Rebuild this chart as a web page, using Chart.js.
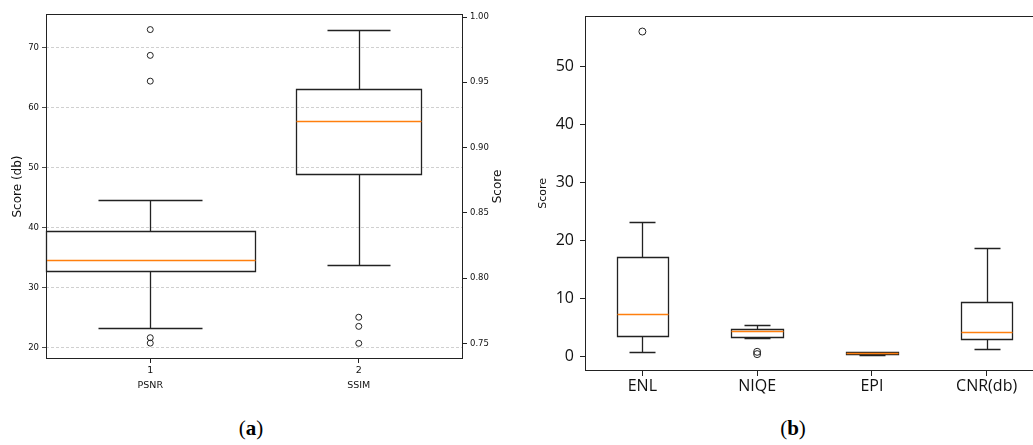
<!DOCTYPE html>
<html>
<head>
<meta charset="utf-8">
<script src="https://cdn.jsdelivr.net/npm/chart.js@4.4.0/dist/chart.umd.min.js"></script>
<style>
  html, body { margin: 0; padding: 0; background: #fff; overflow: hidden; width: 1033px; height: 445px; }
  #wrapA { position: absolute; left: 0; top: 0; width: 520px; height: 400px; }
  #wrapB { position: absolute; left: 520px; top: 0; width: 530px; height: 400px; }
  .sub { position: absolute; top: 416px; line-height: 24px; font-family: "Liberation Serif", "DejaVu Serif", serif;
         font-size: 21px; color: #000; transform: translateX(-50%); white-space: nowrap; }
</style>
</head>
<body>
<div id="wrapA"><canvas id="chartA" width="520" height="400"></canvas></div>
<div id="wrapB"><canvas id="chartB" width="530" height="400"></canvas></div>
<div class="sub" style="left:251px">(<b>a</b>)</div>
<div class="sub" style="left:793px">(<b>b</b>)</div>
<script>
// ---- panel (a) data ----
const aPositions = [1, 2];
const aNames = ["PSNR", "SSIM"];
// box stats: low whisker, Q1, median, Q3, high whisker
const psnrBox = [23.2, 32.7, 34.5, 39.4, 44.5];
const psnrOutliers = [73.0, 68.7, 64.4, 21.6, 20.7];
const ssimBox = [0.810, 0.880, 0.920, 0.945, 0.990];
const ssimOutliers = [0.770, 0.763, 0.750];
const psnrTicks = [20, 30, 40, 50, 60, 70];
const ssimTicks = [0.75, 0.80, 0.85, 0.90, 0.95, 1.00];

// ---- panel (b) data ----
const bPositions = [1, 2, 3, 4];
const bNames = ["ENL", "NIQE", "EPI", "CNR(db)"];
const enlBox = [0.9, 3.5, 7.3, 17.2, 23.2];
const niqeBox = [3.3, 3.4, 4.5, 4.7, 5.4];
const epiBox = [0.35, 0.45, 0.6, 0.75, 0.85];
const cnrBox = [1.3, 3.0, 4.2, 9.4, 18.8];
const enlOutliers = [56.1];
const niqeOutliers = [0.85, 0.45];
const scoreTicks = [0, 10, 20, 30, 40, 50];

const INK = "#222";
const MEDIAN = "#ff7f0e";

// draws the boxes/whiskers with the chart's own scales
function boxPlugin(boxes) {
  return {
    id: "boxes",
    afterDatasetsDraw(chart) {
      const ctx = chart.ctx;
      const xs = chart.scales.x;
      ctx.save();
      boxes.forEach((b) => {
        const ys = chart.scales[b.axis];
        const [lo, q1, med, q3, hi] = b.stats;
        const y = (v) => Math.round(ys.getPixelForValue(v)) + 0.5;
        const cx = Math.round(xs.getPixelForValue(b.pos)) + 0.5;
        const left = Math.round(xs.getPixelForValue(b.pos - b.width / 2)) + 0.5;
        const right = Math.round(xs.getPixelForValue(b.pos + b.width / 2)) + 0.5;
        const capL = Math.round(xs.getPixelForValue(b.pos - b.width / 4)) + 0.5;
        const capR = Math.round(xs.getPixelForValue(b.pos + b.width / 4)) + 0.5;
        ctx.lineWidth = 1.3;
        ctx.strokeStyle = INK;
        ctx.beginPath();
        ctx.moveTo(cx, y(q1)); ctx.lineTo(cx, y(lo));
        ctx.moveTo(cx, y(q3)); ctx.lineTo(cx, y(hi));
        ctx.moveTo(capL, y(lo)); ctx.lineTo(capR, y(lo));
        ctx.moveTo(capL, y(hi)); ctx.lineTo(capR, y(hi));
        ctx.rect(left, y(q3), right - left, y(q1) - y(q3));
        ctx.stroke();
        ctx.beginPath();
        ctx.strokeStyle = MEDIAN;
        ctx.moveTo(left, y(med)); ctx.lineTo(right, y(med));
        ctx.stroke();
      });
      ctx.restore();
    },
  };
}

const framePlugin = {
  id: "frame",
  afterDraw(chart) {
    const { ctx, chartArea: a } = chart;
    ctx.save();
    ctx.strokeStyle = INK;
    ctx.lineWidth = 1;
    ctx.strokeRect(Math.round(a.left) + 0.5, Math.round(a.top) + 0.5,
      Math.round(a.right - a.left) - 1, Math.round(a.bottom - a.top) - 1);
    ctx.restore();
  },
};

// right axis title reads bottom-to-top like matplotlib
const rightTitlePlugin = {
  id: "rightTitle",
  afterDraw(chart) {
    const { ctx, chartArea: a } = chart;
    ctx.save();
    ctx.translate(a.right + 35, (a.top + a.bottom) / 2);
    ctx.rotate(-Math.PI / 2);
    ctx.font = "12px 'DejaVu Sans'";
    ctx.fillStyle = "#111";
    ctx.textAlign = "center";
    ctx.textBaseline = "middle";
    ctx.fillText("Score", 0, 0);
    ctx.restore();
  },
};

const setTicks = (vals) => (s) => { s.ticks = vals.map((v) => ({ value: v })); };
const outlierSet = (pos, vals, axis, r) => ({
  data: vals.map((v) => ({ x: pos, y: v })),
  yAxisID: axis,
  pointStyle: "circle",
  pointRadius: r,
  pointBorderWidth: 1,
  pointBorderColor: INK,
  pointBackgroundColor: "rgba(0,0,0,0)",
  showLine: false,
});

new Chart(document.getElementById("chartA"), {
  type: "scatter",
  data: {
    datasets: [
      outlierSet(aPositions[0], psnrOutliers, "y", 3),
      outlierSet(aPositions[1], ssimOutliers, "yR", 3),
    ],
  },
  options: {
    responsive: false,
    animation: false,
    layout: { padding: { top: 14, left: 0, right: 0, bottom: 0 } },
    plugins: { legend: { display: false }, tooltip: { enabled: false } },
    scales: {
      x: {
        type: "linear", min: 0.5, max: 2.5,
        afterBuildTicks: setTicks(aPositions),
        afterFit: (s) => { s.height = 41; },
        border: { display: false },
        grid: { drawOnChartArea: false, tickLength: 4, tickColor: INK },
        ticks: {
          callback: (v, i) => [String(aPositions[i]), aNames[i]],
          font: { family: "DejaVu Sans", size: 9.5, lineHeight: 1.6 },
          color: "#111", padding: 0, maxRotation: 0, autoSkip: false,
        },
      },
      y: {
        position: "left", min: 18.05, max: 75.6,
        afterBuildTicks: setTicks(psnrTicks),
        afterFit: (s) => { s.width = 46; },
        border: { display: false, dash: [3, 2] },
        grid: { color: "#c4c4c4", lineWidth: 0.8, tickLength: 4, tickColor: INK },
        ticks: { font: { family: "DejaVu Sans", size: 8.5 }, color: "#111", padding: 3 },
        title: {
          display: true, text: "Score (db)", color: "#111",
          font: { family: "DejaVu Sans", size: 12 }, padding: { top: 11, bottom: 0 },
        },
      },
      yR: {
        position: "right", min: 0.738, max: 1.0023,
        afterBuildTicks: setTicks(ssimTicks),
        afterFit: (s) => { s.width = 57; },
        border: { display: false },
        grid: { drawOnChartArea: false, tickLength: 4, tickColor: INK },
        ticks: {
          callback: (v) => v.toFixed(2),
          font: { family: "DejaVu Sans", size: 8.5 }, color: "#111", padding: 3,
        },
      },
    },
  },
  plugins: [
    boxPlugin([
      { pos: aPositions[0], stats: psnrBox, axis: "y", width: 1.0 },
      { pos: aPositions[1], stats: ssimBox, axis: "yR", width: 0.6 },
    ]),
    framePlugin,
    rightTitlePlugin,
  ],
});

new Chart(document.getElementById("chartB"), {
  type: "scatter",
  data: {
    datasets: [
      outlierSet(bPositions[0], enlOutliers, "y", 3.5),
      outlierSet(bPositions[1], niqeOutliers, "y", 3.5),
    ],
  },
  options: {
    responsive: false,
    animation: false,
    layout: { padding: { top: 14, left: 0, right: 6, bottom: 0 } },
    plugins: { legend: { display: false }, tooltip: { enabled: false } },
    scales: {
      x: {
        type: "linear", min: 0.5, max: 4.5,
        afterBuildTicks: setTicks(bPositions),
        afterFit: (s) => { s.height = 29; },
        border: { display: false },
        grid: { drawOnChartArea: false, tickLength: 5, tickColor: INK },
        ticks: {
          callback: (v, i) => bNames[i],
          font: { family: "Open Sans", size: 16 },
          color: "#111", padding: 1, maxRotation: 0, autoSkip: false,
        },
      },
      y: {
        position: "left", min: -2.46, max: 58.85,
        afterBuildTicks: setTicks(scoreTicks),
        afterFit: (s) => { s.width = 65; },
        border: { display: false },
        grid: { drawOnChartArea: false, tickLength: 5, tickColor: INK },
        ticks: { font: { family: "Open Sans", size: 16 }, color: "#111", padding: 6 },
        title: {
          display: true, text: "Score", color: "#111",
          font: { family: "DejaVu Sans", size: 11 }, padding: { top: 17, bottom: 0 },
        },
      },
    },
  },
  plugins: [
    boxPlugin([
      { pos: bPositions[0], stats: enlBox, axis: "y", width: 0.45 },
      { pos: bPositions[1], stats: niqeBox, axis: "y", width: 0.45 },
      { pos: bPositions[2], stats: epiBox, axis: "y", width: 0.45 },
      { pos: bPositions[3], stats: cnrBox, axis: "y", width: 0.45 },
    ]),
    framePlugin,
  ],
});
</script>
</body>
</html>
